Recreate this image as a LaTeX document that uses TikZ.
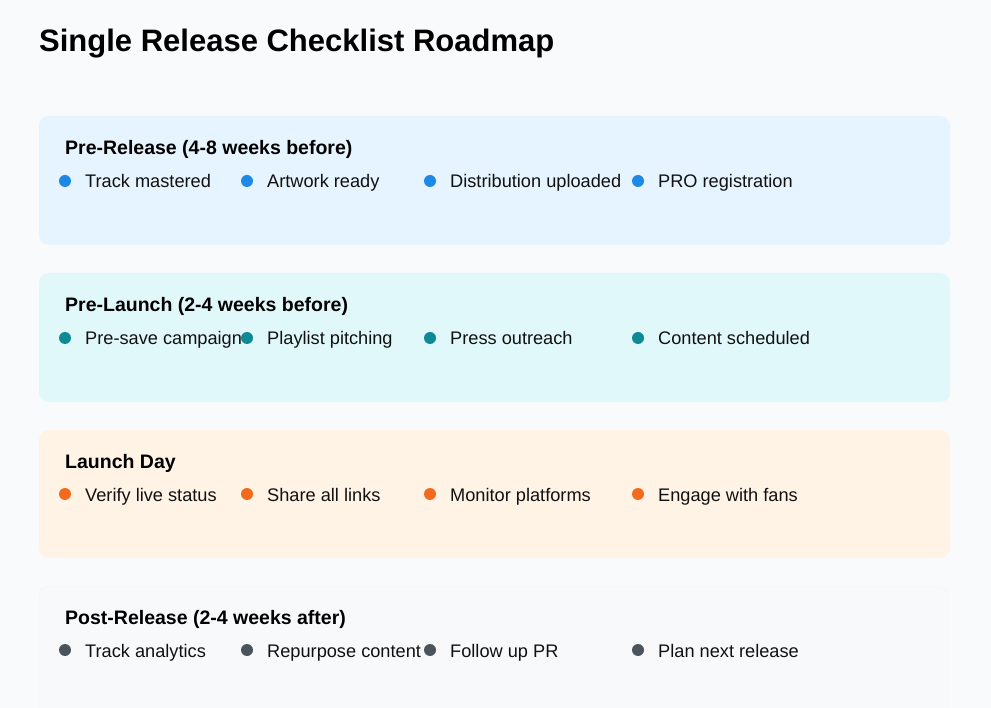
\documentclass[tikz,border=0pt]{standalone}
\usepackage{fontspec}
\setmainfont{Liberation Sans}
\usetikzlibrary{positioning}

\definecolor{pagebg}{HTML}{F8FAFC}
\definecolor{relfill}{HTML}{E5F4FE}
\definecolor{launchfill}{HTML}{E1F8FB}
\definecolor{dayfill}{HTML}{FFF3E6}
\definecolor{postfill}{HTML}{F8F9FA}
\definecolor{relbullet}{HTML}{1E88E5}
\definecolor{launchbullet}{HTML}{0E8A96}
\definecolor{daybullet}{HTML}{F26B1D}
\definecolor{postbullet}{HTML}{4B535C}
\definecolor{inktext}{HTML}{111111}

\begin{document}
\begin{tikzpicture}[x=1pt,y=-1pt,
  panel/.style={rounded corners=10pt,draw=none},
  head/.style={anchor=base west,inner sep=0pt,font=\fontsize{19.5}{22}\selectfont\bfseries,text=black},
  item/.style={anchor=base west,inner sep=0pt,font=\fontsize{18.2}{21}\selectfont,text=inktext},
  dot/.style={circle,inner sep=0pt,minimum size=12pt}]

  \fill[pagebg] (0,0) rectangle (991,708);
  \useasboundingbox (0,0) rectangle (991,708);

  \node[anchor=base west,inner sep=0pt,font=\fontsize{31}{34}\selectfont\bfseries] (title) at (39,52) {Single Release Checklist Roadmap};

  % panels
  \fill[panel,relfill] (39,116) rectangle (950,245);
  \fill[panel,launchfill] (39,273) rectangle (950,402);
  \fill[panel,dayfill] (39,430) rectangle (950,558);
  \filldraw[panel,postfill,draw=black!4] (39,586) rectangle (948,720);

  % pre-release
  \node[head] (pre) at (65,155) {Pre-Release (4-8 weeks before)};
  \node[dot,fill=relbullet] (pre1) at (65,181) {};
  \node[item] (pretx1) at (85,188) {Track mastered};
  \node[dot,fill=relbullet] (pre2) at (247,181) {};
  \node[item] (pretx2) at (267,188) {Artwork ready};
  \node[dot,fill=relbullet] (pre3) at (430,181) {};
  \node[item] (pretx3) at (450,188) {Distribution uploaded};
  \node[dot,fill=relbullet] (pre4) at (638,181) {};
  \node[item] (pretx4) at (658,188) {PRO registration};

  % pre-launch
  \node[head] (launch) at (65,312) {Pre-Launch (2-4 weeks before)};
  \node[dot,fill=launchbullet] (launch1) at (65,338) {};
  \node[item] (launchtx1) at (85,345) {Pre-save campaign};
  \node[dot,fill=launchbullet] (launch2) at (247,338) {};
  \node[item] (launchtx2) at (267,345) {Playlist pitching};
  \node[dot,fill=launchbullet] (launch3) at (430,338) {};
  \node[item] (launchtx3) at (450,345) {Press outreach};
  \node[dot,fill=launchbullet] (launch4) at (638,338) {};
  \node[item] (launchtx4) at (658,345) {Content scheduled};

  % launch day
  \node[head] (day) at (65,468) {Launch Day};
  \node[dot,fill=daybullet] (day1) at (65,494) {};
  \node[item] (daytx1) at (85,501) {Verify live status};
  \node[dot,fill=daybullet] (day2) at (247,494) {};
  \node[item] (daytx2) at (267,501) {Share all links};
  \node[dot,fill=daybullet] (day3) at (430,494) {};
  \node[item] (daytx3) at (450,501) {Monitor platforms};
  \node[dot,fill=daybullet] (day4) at (638,494) {};
  \node[item] (daytx4) at (658,501) {Engage with fans};

  % post-release
  \node[head] (post) at (65,624) {Post-Release (2-4 weeks after)};
  \node[dot,fill=postbullet] (post1) at (65,650) {};
  \node[item] (posttx1) at (85,657) {Track analytics};
  \node[dot,fill=postbullet] (post2) at (247,650) {};
  \node[item] (posttx2) at (267,657) {Repurpose content};
  \node[dot,fill=postbullet] (post3) at (430,650) {};
  \node[item] (posttx3) at (450,657) {Follow up PR};
  \node[dot,fill=postbullet] (post4) at (638,650) {};
  \node[item] (posttx4) at (658,657) {Plan next release};
\end{tikzpicture}
\end{document}
